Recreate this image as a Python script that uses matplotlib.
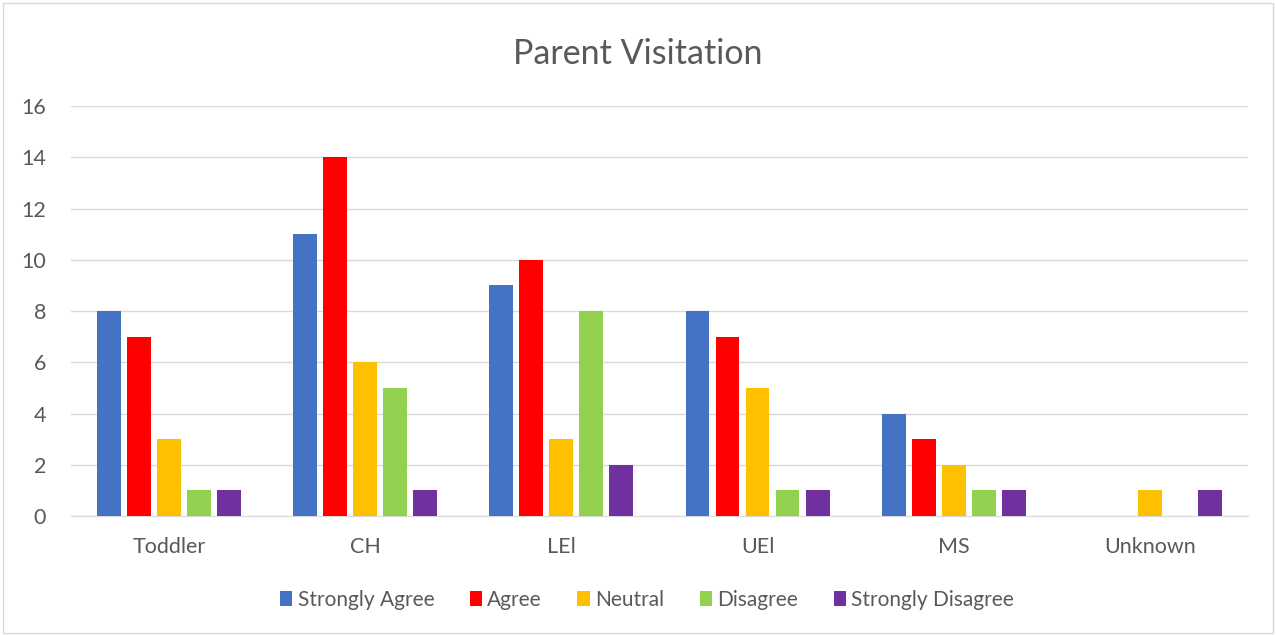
import numpy as np
from matplotlib import pyplot as plt
from matplotlib.patches import Rectangle

plt.rcParams['font.family'] = ['Lato', 'DejaVu Sans']

categories = ['Toddler', 'CH', 'LEl', 'UEl', 'MS', 'Unknown']
series = ['Strongly Agree', 'Agree', 'Neutral', 'Disagree', 'Strongly Disagree']
colors = ['#4472C4', '#FF0000', '#FFC000', '#92D050', '#7030A0']
strongly_agree = [8, 11, 9, 8, 4, 0]
agree = [7, 14, 10, 7, 3, 0]
neutral = [3, 6, 3, 5, 2, 1]
disagree = [1, 5, 8, 1, 1, 0]
strongly_disagree = [1, 1, 2, 1, 1, 1]
values = [strongly_agree, agree, neutral, disagree, strongly_disagree]

text_col = '#595959'
fig = plt.figure(figsize=(12.76, 6.35), dpi=100)
ax = fig.add_axes([0.0556, 0.1874, 0.9224, 0.6456])

x = np.arange(len(categories))
step = 0.153
width = 0.122
for i, (name, vals, c) in enumerate(zip(series, values, colors)):
    ax.bar(x + (i - 2) * step, vals, width=width, color=c, label=name, zorder=3)

ax.set_xlim(-0.5, len(categories) - 0.5)
ax.set_ylim(0, 16)
ax.set_yticks(range(0, 17, 2))
ax.set_xticks(x)
ax.set_xticklabels(categories)
ax.grid(axis='y', color='#D9D9D9', linewidth=1, zorder=0)
for s in ['top', 'right', 'left']:
    ax.spines[s].set_visible(False)
ax.spines['bottom'].set_color('#D9D9D9')
ax.tick_params(axis='both', length=0, labelsize=15.5, colors=text_col)
ax.tick_params(axis='y', pad=18)
ax.tick_params(axis='x', pad=15)

fig.suptitle('Parent Visitation', y=0.94, fontsize=24.5, color=text_col)
fig.legend(loc='center', bbox_to_anchor=(0.507, 0.055), ncol=5, frameon=False,
           fontsize=15, labelcolor=text_col, handlelength=0.6, handleheight=0.7,
           handletextpad=0.25, columnspacing=1.7)

fig.patches.append(Rectangle((0.002, 0.003), 0.996, 0.993, transform=fig.transFigure,
                             fill=False, edgecolor='#D9D9D9', linewidth=1))
plt.savefig('out.png', dpi=100)
